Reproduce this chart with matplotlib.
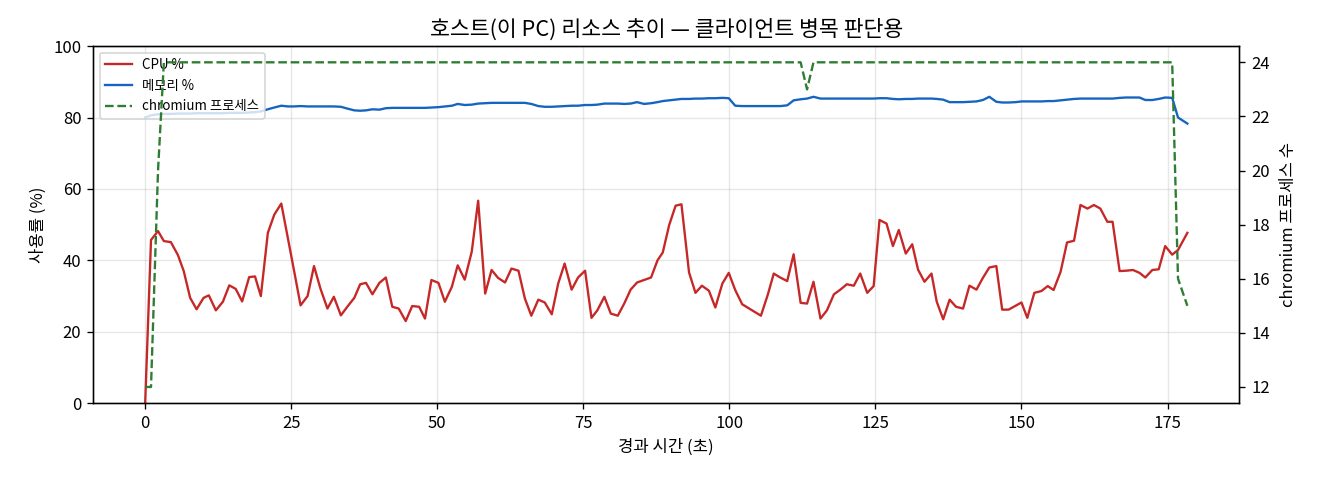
import matplotlib
matplotlib.use("Agg")
import matplotlib.pyplot as plt

plt.rcParams['font.family'] = ['Noto Sans CJK KR', 'DejaVu Sans']
plt.rcParams['axes.unicode_minus'] = False

# 경과 시간 (초)
elapsed = [
    0.0, 1.0, 2.2, 3.2, 4.4, 5.6, 6.6, 7.7, 8.8, 10.0,
    10.9, 12.1, 13.3, 14.4, 15.5, 16.6, 17.8, 18.8, 19.8, 21.0,
    22.1, 23.3, 24.4, 25.5, 26.6, 27.8, 28.9, 30.0, 31.2, 32.3,
    33.5, 34.6, 35.8, 36.8, 37.8, 38.9, 40.1, 41.2, 42.3, 43.4,
    44.6, 45.7, 46.9, 47.9, 49.0, 50.2, 51.3, 52.5, 53.5, 54.7,
    55.9, 57.0, 58.2, 59.3, 60.4, 61.6, 62.7, 63.9, 65.0, 66.1,
    67.3, 68.4, 69.6, 70.7, 71.8, 73.0, 74.1, 75.3, 76.4, 77.4,
    78.6, 79.7, 80.9, 82.0, 83.1, 84.2, 85.4, 86.6, 87.7, 88.6,
    89.7, 90.8, 91.8, 93.1, 94.2, 95.3, 96.5, 97.6, 98.8, 99.9,
    101.0, 102.2, 103.3, 104.3, 105.4, 106.6, 107.6, 108.7, 109.9, 111.0,
    112.2, 113.3, 114.4, 115.6, 116.7, 117.9, 119.0, 120.1, 121.3, 122.4,
    123.6, 124.7, 125.7, 126.9, 128.0, 129.0, 130.2, 131.3, 132.3, 133.4,
    134.6, 135.5, 136.6, 137.7, 138.8, 140.0, 141.1, 142.3, 143.4, 144.5,
    145.7, 146.7, 147.8, 149.0, 150.0, 151.0, 152.2, 153.4, 154.5, 155.5,
    156.7, 157.8, 159.0, 160.1, 161.3, 162.4, 163.5, 164.7, 165.6, 166.8,
    167.9, 169.1, 170.2, 171.2, 172.4, 173.5, 174.6, 175.8, 176.8, 178.4,
]

# CPU 사용률 (%)
cpu = [
    0.0, 45.7, 48.2, 45.4, 45.1, 41.5, 37.0, 29.5, 26.3, 29.5,
    30.2, 26.0, 28.4, 33.0, 32.0, 28.5, 35.3, 35.5, 30.0, 47.7,
    52.8, 55.9, 46.5, 37.0, 27.4, 30.0, 38.4, 32.1, 26.5, 29.8,
    24.6, 27.0, 29.5, 33.3, 33.7, 30.5, 33.7, 35.2, 27.0, 26.5,
    23.0, 27.2, 27.0, 23.7, 34.5, 33.7, 28.4, 32.6, 38.6, 34.6,
    42.4, 56.7, 30.7, 37.3, 35.1, 33.8, 37.7, 37.1, 29.3, 24.5,
    29.0, 28.2, 24.9, 33.5, 39.1, 31.8, 35.2, 37.1, 23.9, 26.0,
    29.8, 25.1, 24.5, 27.9, 31.8, 33.8, 34.5, 35.2, 40.0, 42.2,
    49.9, 55.3, 55.7, 36.6, 30.9, 32.9, 31.5, 26.8, 33.5, 36.5,
    31.7, 27.7, 26.6, 25.6, 24.5, 30.5, 36.3, 35.2, 34.2, 41.7,
    28.1, 27.9, 34.0, 23.7, 26.0, 30.5, 31.8, 33.3, 32.9, 36.3,
    30.9, 32.8, 51.3, 50.3, 44.0, 48.5, 41.9, 44.5, 37.4, 34.0,
    36.3, 28.4, 23.5, 29.0, 27.0, 26.5, 32.9, 31.8, 35.1, 38.0,
    38.4, 26.2, 26.2, 27.3, 28.2, 23.9, 30.9, 31.4, 32.8, 31.7,
    36.8, 45.0, 45.5, 55.5, 54.5, 55.5, 54.5, 50.8, 50.8, 37.0,
    37.1, 37.3, 36.5, 35.2, 37.3, 37.5, 44.0, 41.6, 42.9, 47.7,
]

# 메모리 사용률 (%)
memory = [
    80.0, 80.6, 80.9, 81.0, 81.0, 81.1, 81.1, 81.1, 81.2, 81.2,
    81.2, 81.2, 81.2, 81.3, 81.3, 81.3, 81.4, 81.5, 81.7, 82.3,
    82.8, 83.3, 83.1, 83.1, 83.2, 83.1, 83.1, 83.1, 83.1, 83.1,
    83.0, 82.5, 82.0, 81.9, 82.0, 82.3, 82.2, 82.6, 82.7, 82.7,
    82.7, 82.7, 82.7, 82.7, 82.8, 82.9, 83.1, 83.3, 83.8, 83.5,
    83.6, 83.9, 84.0, 84.1, 84.1, 84.1, 84.1, 84.1, 84.1, 83.8,
    83.2, 83.0, 83.0, 83.1, 83.2, 83.3, 83.3, 83.5, 83.5, 83.6,
    83.9, 83.9, 83.9, 83.8, 83.9, 84.3, 83.8, 84.0, 84.3, 84.6,
    84.8, 85.0, 85.2, 85.2, 85.3, 85.3, 85.4, 85.4, 85.5, 85.4,
    83.3, 83.2, 83.2, 83.2, 83.2, 83.2, 83.2, 83.2, 83.4, 84.8,
    85.1, 85.3, 85.8, 85.3, 85.3, 85.3, 85.3, 85.3, 85.3, 85.3,
    85.3, 85.3, 85.4, 85.4, 85.2, 85.1, 85.2, 85.2, 85.3, 85.3,
    85.3, 85.2, 85.0, 84.3, 84.3, 84.3, 84.4, 84.5, 84.9, 85.8,
    84.4, 84.2, 84.2, 84.3, 84.5, 84.5, 84.5, 84.5, 84.6, 84.6,
    84.8, 85.0, 85.2, 85.3, 85.3, 85.3, 85.3, 85.3, 85.3, 85.5,
    85.6, 85.6, 85.6, 84.9, 84.9, 85.2, 85.6, 85.5, 80.0, 78.3,
]

# chromium 프로세스 수
chromium = [12, 12, 20] + [24] * 98 + [23] + [24] * 56 + [16, 15]

fig = plt.figure(figsize=(11, 4), dpi=120)
ax = fig.add_axes([0.0705, 0.16, 0.8685, 0.744])
ax2 = ax.twinx()

l1, = ax.plot(elapsed, cpu, color='#c62828', linewidth=1.4, label='CPU %')
l2, = ax.plot(elapsed, memory, color='#1565c0', linewidth=1.4, label='메모리 %')
l3, = ax2.plot(elapsed, chromium, color='#2e7d32', linewidth=1.4,
               linestyle='--', label='chromium 프로세스')

ax.set_ylim(0, 100)
ax.set_xticks([0, 25, 50, 75, 100, 125, 150, 175])
ax.set_yticks([0, 20, 40, 60, 80, 100])
ax2.set_yticks([12, 14, 16, 18, 20, 22, 24])
ax.grid(True, alpha=0.3)

ax.set_xlabel('경과 시간 (초)')
ax.set_ylabel('사용률 (%)')
ax2.set_ylabel('chromium 프로세스 수', labelpad=6)
ax.set_title('호스트(이 PC) 리소스 추이 — 클라이언트 병목 판단용', fontsize=13)

ax.legend(handles=[l1, l2, l3], loc='upper left', fontsize=8)

fig.savefig('out.png', dpi=120)
